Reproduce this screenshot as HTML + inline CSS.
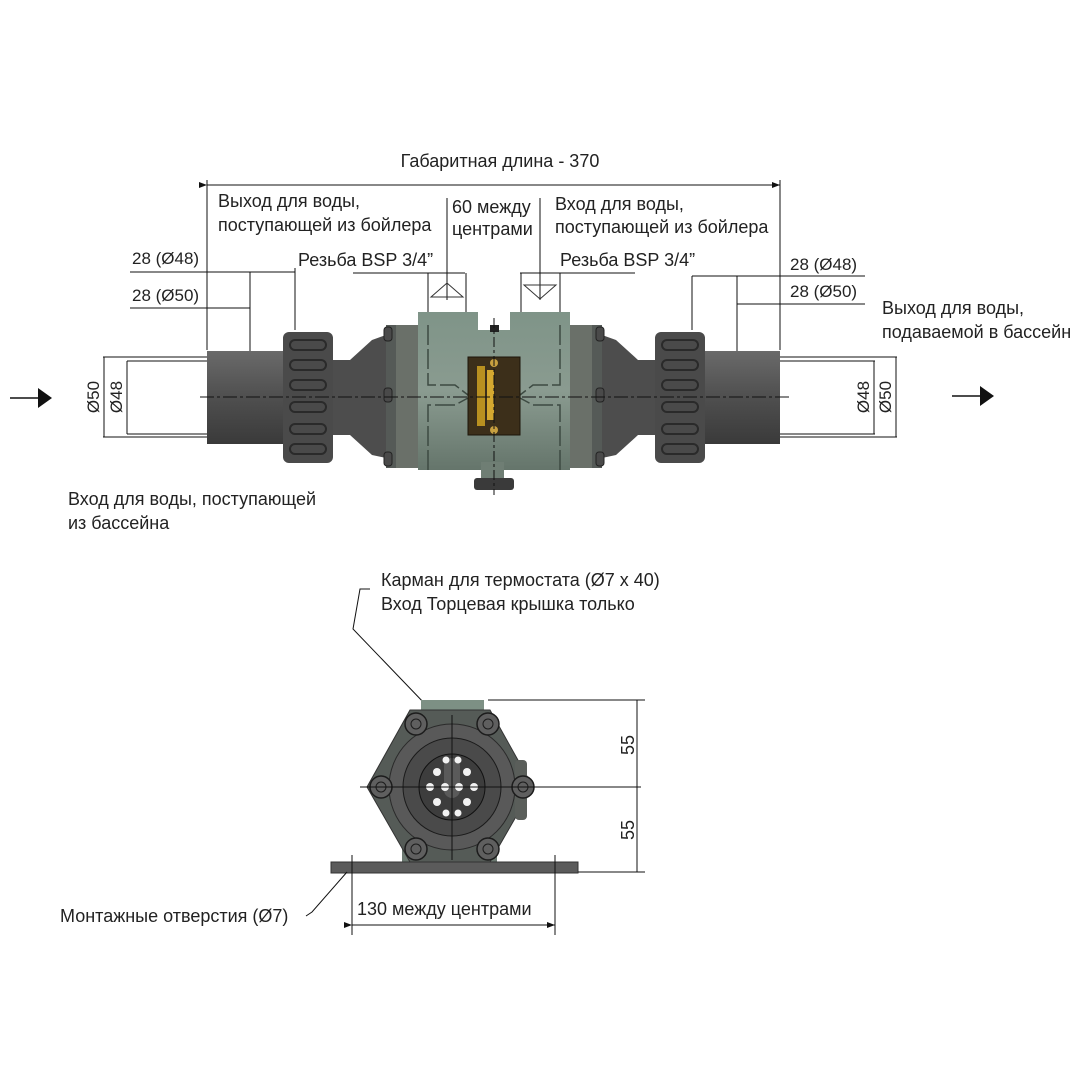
<!DOCTYPE html>
<html><head><meta charset="utf-8"><style>
html,body{margin:0;padding:0;background:#fff;}
svg{display:block;}
text{font-family:"Liberation Sans","DejaVu Sans",sans-serif;fill:#222;}
</style></head><body>
<svg width="1080" height="1080" viewBox="0 0 1080 1080" xmlns="http://www.w3.org/2000/svg">
<defs>
<linearGradient id="pipe" x1="0" y1="0" x2="0" y2="1">
<stop offset="0" stop-color="#6a6a6a"/><stop offset="0.5" stop-color="#4f4f4f"/><stop offset="1" stop-color="#3a3a3a"/></linearGradient>
<linearGradient id="body" x1="0" y1="0" x2="0" y2="1">
<stop offset="0" stop-color="#7f9488"/><stop offset="0.5" stop-color="#8a9b90"/><stop offset="1" stop-color="#65756b"/></linearGradient>
<marker id="ar" markerWidth="8" markerHeight="6" refX="8" refY="3" orient="auto"><path d="M0,0 L8,3 L0,6 z" fill="#111"/></marker>
</defs>

<!-- ===== TOP VIEW ===== -->
<text x="500" y="167" font-size="18" text-anchor="middle">Габаритная длина - 370</text>
<line x1="207" y1="185" x2="780" y2="185" stroke="#111" stroke-width="1" marker-start="url(#ar)" marker-end="url(#ar)"/>
<line x1="207" y1="180" x2="207" y2="350" stroke="#111"/>
<line x1="780" y1="180" x2="780" y2="350" stroke="#111"/>

<text x="218" y="207" font-size="18">Выход для воды,</text>
<text x="218" y="231" font-size="18">поступающей из бойлера</text>
<text x="555" y="210" font-size="18">Вход для воды,</text>
<text x="555" y="233" font-size="18">поступающей из бойлера</text>
<text x="452" y="213" font-size="18">60 между</text>
<text x="452" y="235" font-size="18">центрами</text>
<line x1="447" y1="198" x2="447" y2="300" stroke="#111"/>
<line x1="540" y1="198" x2="540" y2="300" stroke="#111"/>
<text x="298" y="266" font-size="18">Резьба BSP 3/4”</text>
<text x="560" y="266" font-size="18">Резьба BSP 3/4”</text>
<line x1="353" y1="273" x2="465" y2="273" stroke="#111"/>
<line x1="520" y1="273" x2="635" y2="273" stroke="#111"/>
<line x1="428" y1="273" x2="428" y2="312" stroke="#111"/><line x1="466" y1="273" x2="466" y2="312" stroke="#111"/>
<path d="M431,297 L447,283 L463,297 z" fill="none" stroke="#333"/>
<line x1="521" y1="273" x2="521" y2="312" stroke="#111"/><line x1="560" y1="273" x2="560" y2="312" stroke="#111"/>
<path d="M524,285 L540,299 L556,285 z" fill="none" stroke="#333"/>

<text x="132" y="264" font-size="17">28 (Ø48)</text>
<line x1="130" y1="272" x2="295" y2="272" stroke="#111"/>
<line x1="250" y1="272" x2="250" y2="352" stroke="#111"/>
<line x1="295" y1="268" x2="295" y2="330" stroke="#111"/>
<text x="132" y="301" font-size="17">28 (Ø50)</text>
<line x1="130" y1="308" x2="250" y2="308" stroke="#111"/>
<text x="790" y="270" font-size="17">28 (Ø48)</text>
<line x1="692" y1="276" x2="865" y2="276" stroke="#111"/>
<line x1="692" y1="276" x2="692" y2="330" stroke="#111"/>
<line x1="737" y1="276" x2="737" y2="352" stroke="#111"/>
<text x="790" y="297" font-size="17">28 (Ø50)</text>
<line x1="737" y1="304" x2="865" y2="304" stroke="#111"/>

<text x="882" y="314" font-size="18">Выход для воды,</text>
<text x="882" y="338" font-size="18">подаваемой в бассейн</text>

<line x1="10" y1="398" x2="40" y2="398" stroke="#111" stroke-width="1.5"/>
<path d="M38,388 L52,398 L38,408 z" fill="#111"/>
<line x1="952" y1="396" x2="982" y2="396" stroke="#111" stroke-width="1.5"/>
<path d="M980,386 L994,396 L980,406 z" fill="#111"/>

<line x1="103" y1="357" x2="245" y2="357" stroke="#111"/>
<line x1="103" y1="437" x2="245" y2="437" stroke="#111"/>
<line x1="127" y1="361" x2="245" y2="361" stroke="#111"/>
<line x1="127" y1="434" x2="245" y2="434" stroke="#111"/>
<line x1="104" y1="357" x2="104" y2="437" stroke="#111"/>
<line x1="127" y1="361" x2="127" y2="434" stroke="#111"/>
<text transform="translate(99,397) rotate(-90)" font-size="17" text-anchor="middle">Ø50</text>
<text transform="translate(122,397) rotate(-90)" font-size="17" text-anchor="middle">Ø48</text>
<line x1="740" y1="357" x2="897" y2="357" stroke="#111"/>
<line x1="740" y1="437" x2="897" y2="437" stroke="#111"/>
<line x1="740" y1="361" x2="875" y2="361" stroke="#111"/>
<line x1="740" y1="434" x2="875" y2="434" stroke="#111"/>
<line x1="896" y1="357" x2="896" y2="437" stroke="#111"/>
<line x1="874" y1="361" x2="874" y2="434" stroke="#111"/>
<text transform="translate(869,397) rotate(-90)" font-size="17" text-anchor="middle">Ø48</text>
<text transform="translate(891,397) rotate(-90)" font-size="17" text-anchor="middle">Ø50</text>

<rect x="207" y="351" width="85" height="93" fill="url(#pipe)"/>
<rect x="283" y="332" width="50" height="131" rx="6" fill="#4a4a4a"/>
<g stroke="#2a2a2a" stroke-width="2" fill="none">
<rect x="290" y="340" width="36" height="10" rx="5"/><rect x="290" y="360" width="36" height="10" rx="5"/>
<rect x="290" y="380" width="36" height="10" rx="5"/><rect x="290" y="402" width="36" height="10" rx="5"/>
<rect x="290" y="424" width="36" height="10" rx="5"/><rect x="290" y="444" width="36" height="10" rx="5"/></g>
<path d="M333,360 L350,360 L372,340 L386,335 L386,458 L372,455 L350,435 L333,435 z" fill="#4d4d4d"/>
<rect x="386" y="325" width="32" height="143" fill="#555a57"/>
<rect x="396" y="325" width="22" height="143" fill="#6a7069"/>
<rect x="700" y="351" width="80" height="93" fill="url(#pipe)"/>
<rect x="655" y="332" width="50" height="131" rx="6" fill="#4a4a4a"/>
<g stroke="#2a2a2a" stroke-width="2" fill="none">
<rect x="662" y="340" width="36" height="10" rx="5"/><rect x="662" y="360" width="36" height="10" rx="5"/>
<rect x="662" y="380" width="36" height="10" rx="5"/><rect x="662" y="402" width="36" height="10" rx="5"/>
<rect x="662" y="424" width="36" height="10" rx="5"/><rect x="662" y="444" width="36" height="10" rx="5"/></g>
<path d="M655,360 L638,360 L616,340 L602,335 L602,458 L616,455 L638,435 L655,435 z" fill="#4d4d4d"/>
<rect x="570" y="325" width="32" height="143" fill="#555a57"/>
<rect x="570" y="325" width="22" height="143" fill="#6a7069"/>
<g fill="#4a4a4a" stroke="#222">
<rect x="384" y="327" width="8" height="14" rx="3"/><rect x="384" y="388" width="8" height="14" rx="3"/><rect x="384" y="452" width="8" height="14" rx="3"/>
<rect x="596" y="327" width="8" height="14" rx="3"/><rect x="596" y="388" width="8" height="14" rx="3"/><rect x="596" y="452" width="8" height="14" rx="3"/>
</g>
<path d="M418,312 L478,312 L478,330 L510,330 L510,312 L570,312 L570,470 L418,470 z" fill="url(#body)"/>
<g stroke="#3d4a42" stroke-width="1.5" fill="none" stroke-dasharray="20,4">
<path d="M428,325 L428,385 L455,385 L468,395"/><path d="M428,470 L428,405 L455,405 L468,398"/>
<path d="M560,325 L560,385 L533,385 L520,395"/><path d="M560,470 L560,405 L533,405 L520,398"/>
</g>
<rect x="490" y="325" width="9" height="7" fill="#222"/>
<rect x="481" y="462" width="23" height="20" fill="#6f7e74"/>
<rect x="474" y="478" width="40" height="12" rx="3" fill="#3a3a3a"/>
<rect x="468" y="357" width="52" height="78" fill="#3c2f1a" stroke="#1c150a"/>
<rect x="477" y="366" width="8" height="60" fill="#b89020"/>
<rect x="487" y="370" width="7" height="50" fill="#d4a830"/>
<circle cx="494" cy="363" r="4" fill="#c8a040"/><circle cx="494" cy="430" r="4" fill="#c8a040"/>
<line x1="200" y1="397" x2="790" y2="397" stroke="#111" stroke-dasharray="14,3,3,3"/>
<line x1="494" y1="318" x2="494" y2="495" stroke="#111" stroke-dasharray="10,3,3,3"/>

<text x="68" y="505" font-size="18">Вход для воды, поступающей</text>
<text x="68" y="529" font-size="18">из бассейна</text>

<!-- ===== END VIEW ===== -->
<text x="381" y="586" font-size="18">Карман для термостата (Ø7 x 40)</text>
<text x="381" y="610" font-size="18">Вход Торцевая крышка только</text>
<polyline points="370,589 360,589 353,629 450,730" fill="none" stroke="#111"/>

<rect x="421" y="700" width="63" height="22" fill="#7d9084"/>
<rect x="402" y="830" width="95" height="32" fill="#6b7870"/>
<polygon points="410,710 490,710 533,787 490,862 410,862 367,787" fill="#555b57" stroke="#333"/>
<rect x="515" y="760" width="12" height="60" rx="4" fill="#5a5e5a"/>
<circle cx="452" cy="787" r="63" fill="#595959" stroke="#2a2a2a"/>
<circle cx="452" cy="787" r="49" fill="#4a4a4a" stroke="#1a1a1a"/>
<circle cx="452" cy="787" r="33" fill="#3d3d3d" stroke="#111"/>
<rect x="444" y="758" width="16" height="40" rx="8" fill="#5a5a5a"/>
<g fill="#f2f2f2">
<circle cx="437" cy="772" r="4"/><circle cx="467" cy="772" r="4"/><circle cx="430" cy="787" r="4"/><circle cx="474" cy="787" r="4"/>
<circle cx="437" cy="802" r="4"/><circle cx="467" cy="802" r="4"/><circle cx="445" cy="787" r="4"/><circle cx="459" cy="787" r="4"/>
<circle cx="446" cy="760" r="3.5"/><circle cx="458" cy="760" r="3.5"/><circle cx="446" cy="813" r="3.5"/><circle cx="458" cy="813" r="3.5"/>
</g>
<g fill="#5f5f5f" stroke="#1c1c1c" stroke-width="1.5">
<circle cx="416" cy="724" r="11"/><circle cx="488" cy="724" r="11"/><circle cx="381" cy="787" r="11"/>
<circle cx="523" cy="787" r="11"/><circle cx="416" cy="849" r="11"/><circle cx="488" cy="849" r="11"/></g>
<g fill="none" stroke="#1c1c1c"><circle cx="416" cy="724" r="5"/><circle cx="488" cy="724" r="5"/><circle cx="381" cy="787" r="5"/>
<circle cx="523" cy="787" r="5"/><circle cx="416" cy="849" r="5"/><circle cx="488" cy="849" r="5"/></g>
<line x1="360" y1="787" x2="640" y2="787" stroke="#111"/>
<line x1="452" y1="715" x2="452" y2="860" stroke="#111"/>
<rect x="331" y="862" width="247" height="11" fill="#5b5b5b" stroke="#333"/>
<line x1="352" y1="855" x2="352" y2="935" stroke="#111"/>
<line x1="555" y1="855" x2="555" y2="935" stroke="#111"/>
<line x1="488" y1="700" x2="645" y2="700" stroke="#111"/>
<line x1="578" y1="872" x2="645" y2="872" stroke="#111"/>
<line x1="637" y1="700" x2="637" y2="872" stroke="#111"/>
<line x1="633" y1="787" x2="641" y2="787" stroke="#111"/>
<text transform="translate(634,745) rotate(-90)" font-size="18" text-anchor="middle">55</text>
<text transform="translate(634,830) rotate(-90)" font-size="18" text-anchor="middle">55</text>
<text x="357" y="915" font-size="18">130 между центрами</text>
<line x1="352" y1="925" x2="555" y2="925" stroke="#111" marker-start="url(#ar)" marker-end="url(#ar)"/>
<text x="60" y="922" font-size="18">Монтажные отверстия (Ø7)</text>
<polyline points="306,916 312,912 347,872" fill="none" stroke="#111"/>
</svg>
</body></html>
